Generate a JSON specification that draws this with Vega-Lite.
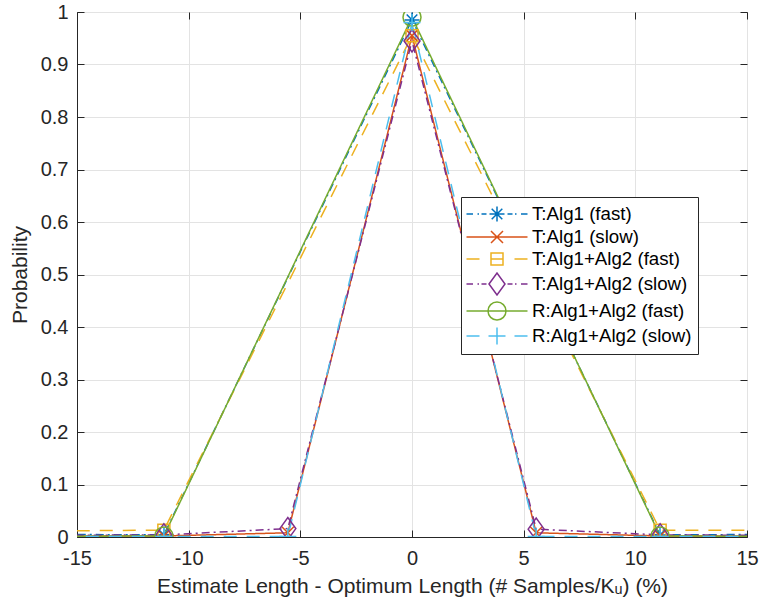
{
  "$schema": "https://vega.github.io/schema/vega-lite/v6.json",
  "width": 670,
  "height": 525,
  "autosize": "none",
  "padding": {"left": 77, "top": 12, "right": 14, "bottom": 72},
  "background": "white",
  "config": {
    "view": {"stroke": "#262626", "strokeWidth": 1},
    "font": "Liberation Sans",
    "axis": {
      "domainColor": "#262626",
      "tickColor": "#262626",
      "labelColor": "#262626",
      "titleColor": "#262626",
      "labelFontSize": 20,
      "titleFontSize": 21,
      "titleFontWeight": "normal",
      "gridColor": "#e3e3e3",
      "tickSize": -7,
      "labelFlush": false,
      "labelFont": "Liberation Sans",
      "titleFont": "Liberation Sans"
    }
  },
  "data": {
    "values": [
      {"series": "T:Alg1 (fast)", "x": -22.22, "p": 0.006},
      {"series": "T:Alg1 (fast)", "x": -11.11, "p": 0.004},
      {"series": "T:Alg1 (fast)", "x": 0, "p": 0.985},
      {"series": "T:Alg1 (fast)", "x": 11.11, "p": 0.004},
      {"series": "T:Alg1 (fast)", "x": 22.22, "p": 0.006},
      {"series": "T:Alg1 (slow)", "x": -16.67, "p": 0.002},
      {"series": "T:Alg1 (slow)", "x": -11.11, "p": 0.002},
      {"series": "T:Alg1 (slow)", "x": -5.56, "p": 0.008},
      {"series": "T:Alg1 (slow)", "x": 0, "p": 0.955},
      {"series": "T:Alg1 (slow)", "x": 5.56, "p": 0.008},
      {"series": "T:Alg1 (slow)", "x": 11.11, "p": 0.002},
      {"series": "T:Alg1 (slow)", "x": 16.67, "p": 0.002},
      {"series": "T:Alg1+Alg2 (fast)", "x": -22.22, "p": 0.01},
      {"series": "T:Alg1+Alg2 (fast)", "x": -11.11, "p": 0.013},
      {"series": "T:Alg1+Alg2 (fast)", "x": 0, "p": 0.955},
      {"series": "T:Alg1+Alg2 (fast)", "x": 11.11, "p": 0.013},
      {"series": "T:Alg1+Alg2 (fast)", "x": 22.22, "p": 0.012},
      {"series": "T:Alg1+Alg2 (slow)", "x": -16.67, "p": 0.003},
      {"series": "T:Alg1+Alg2 (slow)", "x": -11.11, "p": 0.004},
      {"series": "T:Alg1+Alg2 (slow)", "x": -5.56, "p": 0.016},
      {"series": "T:Alg1+Alg2 (slow)", "x": 0, "p": 0.945},
      {"series": "T:Alg1+Alg2 (slow)", "x": 5.56, "p": 0.015},
      {"series": "T:Alg1+Alg2 (slow)", "x": 11.11, "p": 0.004},
      {"series": "T:Alg1+Alg2 (slow)", "x": 16.67, "p": 0.003},
      {"series": "R:Alg1+Alg2 (fast)", "x": -22.22, "p": 0},
      {"series": "R:Alg1+Alg2 (fast)", "x": -11.11, "p": 0.002},
      {"series": "R:Alg1+Alg2 (fast)", "x": 0, "p": 0.99},
      {"series": "R:Alg1+Alg2 (fast)", "x": 11.11, "p": 0.002},
      {"series": "R:Alg1+Alg2 (fast)", "x": 22.22, "p": 0},
      {"series": "R:Alg1+Alg2 (slow)", "x": -16.67, "p": 0.001},
      {"series": "R:Alg1+Alg2 (slow)", "x": -11.11, "p": 0.001},
      {"series": "R:Alg1+Alg2 (slow)", "x": -5.56, "p": 0.001},
      {"series": "R:Alg1+Alg2 (slow)", "x": 0, "p": 0.98},
      {"series": "R:Alg1+Alg2 (slow)", "x": 5.56, "p": 0.001},
      {"series": "R:Alg1+Alg2 (slow)", "x": 11.11, "p": 0.001},
      {"series": "R:Alg1+Alg2 (slow)", "x": 16.67, "p": 0.001}
    ]
  },
  "layer": [
    {
      "layer": [
        {
          "mark": {"type": "line", "clip": true, "strokeWidth": 1.5},
          "encoding": {
            "x": {
              "field": "x", "type": "quantitative",
              "scale": {"domain": [-15, 15], "nice": false, "zero": false},
              "axis": {
                "values": [-15, -10, -5, 0, 5, 10, 15],
                "labelExpr": "'' + datum.value",
                "labelPadding": 18,
                "title": "Estimate Length - Optimum Length (# Samples/Kᵤ) (%)",
                "titlePadding": 7
              }
            },
            "y": {
              "field": "p", "type": "quantitative",
              "scale": {"domain": [0, 1], "nice": false},
              "axis": {
                "values": [0, 0.1, 0.2, 0.3, 0.4, 0.5, 0.6, 0.7, 0.8, 0.9, 1],
                "labelExpr": "'' + datum.value",
                "labelPadding": 16,
                "title": "Probability",
                "titlePadding": 10
              }
            },
            "color": {
              "field": "series", "type": "nominal",
              "scale": {
                "domain": ["T:Alg1 (fast)", "T:Alg1 (slow)", "T:Alg1+Alg2 (fast)", "T:Alg1+Alg2 (slow)", "R:Alg1+Alg2 (fast)", "R:Alg1+Alg2 (slow)"],
                "range": ["#0072BD", "#D95319", "#EDB120", "#7E2F8E", "#77AC30", "#4DBEEE"]
              },
              "legend": null
            },
            "strokeDash": {
              "field": "series", "type": "nominal",
              "scale": {
                "domain": ["T:Alg1 (fast)", "T:Alg1 (slow)", "T:Alg1+Alg2 (fast)", "T:Alg1+Alg2 (slow)", "R:Alg1+Alg2 (fast)", "R:Alg1+Alg2 (slow)"],
                "range": [[8, 4, 2, 4], [1, 0], [13, 10], [8, 4, 2, 4], [1, 0], [13, 10]]
              },
              "legend": null
            }
          }
        },
        {
          "mark": {"type": "point", "clip": true, "filled": false, "strokeWidth": 1.5, "size": 400, "opacity": 1},
          "encoding": {
            "x": {"field": "x", "type": "quantitative"},
            "y": {"field": "p", "type": "quantitative"},
            "color": {"field": "series", "type": "nominal", "legend": null},
            "shape": {
              "field": "series", "type": "nominal",
              "scale": {
                "domain": ["T:Alg1 (fast)", "T:Alg1 (slow)", "T:Alg1+Alg2 (fast)", "T:Alg1+Alg2 (slow)", "R:Alg1+Alg2 (fast)", "R:Alg1+Alg2 (slow)"],
                "range": [
                  "M-0.75,0H0.75M0,-0.75V0.75M-0.53,-0.53L0.53,0.53M-0.53,0.53L0.53,-0.53",
                  "M-0.6,-0.6L0.6,0.6M-0.6,0.6L0.6,-0.6",
                  "M-0.6,-0.6H0.6V0.6H-0.6Z",
                  "M-0.8,0L0,-1.1L0.8,0L0,1.1Z",
                  "M0.9,0A0.9,0.9,0,1,1,-0.9,0A0.9,0.9,0,1,1,0.9,0Z",
                  "M-0.85,0H0.85M0,-0.85V0.85"
                ]
              },
              "legend": null
            }
          }
        }
      ]
    },
    {
      "transform": [{"filter": "datum.x > 1000"}],
      "mark": {"type": "point", "filled": false, "strokeWidth": 1.5, "size": 400, "opacity": 1},
      "encoding": {
        "x": {
          "field": "x", "type": "quantitative",
          "axis": {"orient": "top", "values": [-15, -10, -5, 0, 5, 10, 15], "labels": false, "title": null, "grid": false, "domain": false, "tickSize": -7}
        },
        "y": {
          "field": "p", "type": "quantitative",
          "axis": {"orient": "right", "values": [0, 0.1, 0.2, 0.3, 0.4, 0.5, 0.6, 0.7, 0.8, 0.9, 1], "labels": false, "title": null, "grid": false, "domain": false, "tickSize": -7}
        },
        "color": {
          "field": "series", "type": "nominal",
          "scale": {
            "domain": ["T:Alg1 (fast)", "T:Alg1 (slow)", "T:Alg1+Alg2 (fast)", "T:Alg1+Alg2 (slow)", "R:Alg1+Alg2 (fast)", "R:Alg1+Alg2 (slow)"],
            "range": ["#0072BD", "#D95319", "#EDB120", "#7E2F8E", "#77AC30", "#4DBEEE"]
          },
          "legend": {
            "title": null,
            "orient": "none",
            "legendX": 384,
            "legendY": 185,
            "fillColor": "white",
            "strokeColor": "#262626",
            "padding": 6,
            "symbolSize": 400,
            "symbolStrokeWidth": 1.5,
            "symbolOffset": 19,
            "labelOffset": 24,
            "labelFontSize": 18.7,
            "labelFont": "Liberation Sans",
            "labelColor": "#000000",
            "rowPadding": 1
          }
        },
        "shape": {
          "field": "series", "type": "nominal",
          "scale": {
            "domain": ["T:Alg1 (fast)", "T:Alg1 (slow)", "T:Alg1+Alg2 (fast)", "T:Alg1+Alg2 (slow)", "R:Alg1+Alg2 (fast)", "R:Alg1+Alg2 (slow)"],
            "range": [
              "M-3.05,0H-2.4M-1.95,0H-1.8M-1.55,0H-1.05M1.05,0H1.55M1.8,0H1.95M2.4,0H3.05M-0.75,0H0.75M0,-0.75V0.75M-0.53,-0.53L0.53,0.53M-0.53,0.53L0.53,-0.53",
              "M-3.05,0H3.05M-0.6,-0.6L0.6,0.6M-0.6,0.6L0.6,-0.6",
              "M-3.05,0H-1.75M-0.6,0H0.6M1.75,0H3.05M-0.6,-0.6H0.6V0.6H-0.6Z",
              "M-3.05,0H-2.4M-1.95,0H-1.8M-1.55,0H-1.05M1.05,0H1.55M1.8,0H1.95M2.4,0H3.05M-0.8,0L0,-1.1L0.8,0L0,1.1Z",
              "M-3.05,0H3.05M0.9,0A0.9,0.9,0,1,1,-0.9,0A0.9,0.9,0,1,1,0.9,0Z",
              "M-3.05,0H-1.75M1.75,0H3.05M-0.85,0H0.85M0,-0.85V0.85"
            ]
          },
          "legend": {
            "title": null,
            "orient": "none",
            "legendX": 384,
            "legendY": 185,
            "fillColor": "white",
            "strokeColor": "#262626",
            "padding": 6,
            "symbolSize": 400,
            "symbolStrokeWidth": 1.5,
            "symbolOffset": 19,
            "labelOffset": 24,
            "labelFontSize": 18.7,
            "labelFont": "Liberation Sans",
            "labelColor": "#000000",
            "rowPadding": 1
          }
        }
      }
    }
  ],
  "resolve": {
    "scale": {"color": "independent", "shape": "independent"},
    "axis": {"x": "independent", "y": "independent"}
  }
}
